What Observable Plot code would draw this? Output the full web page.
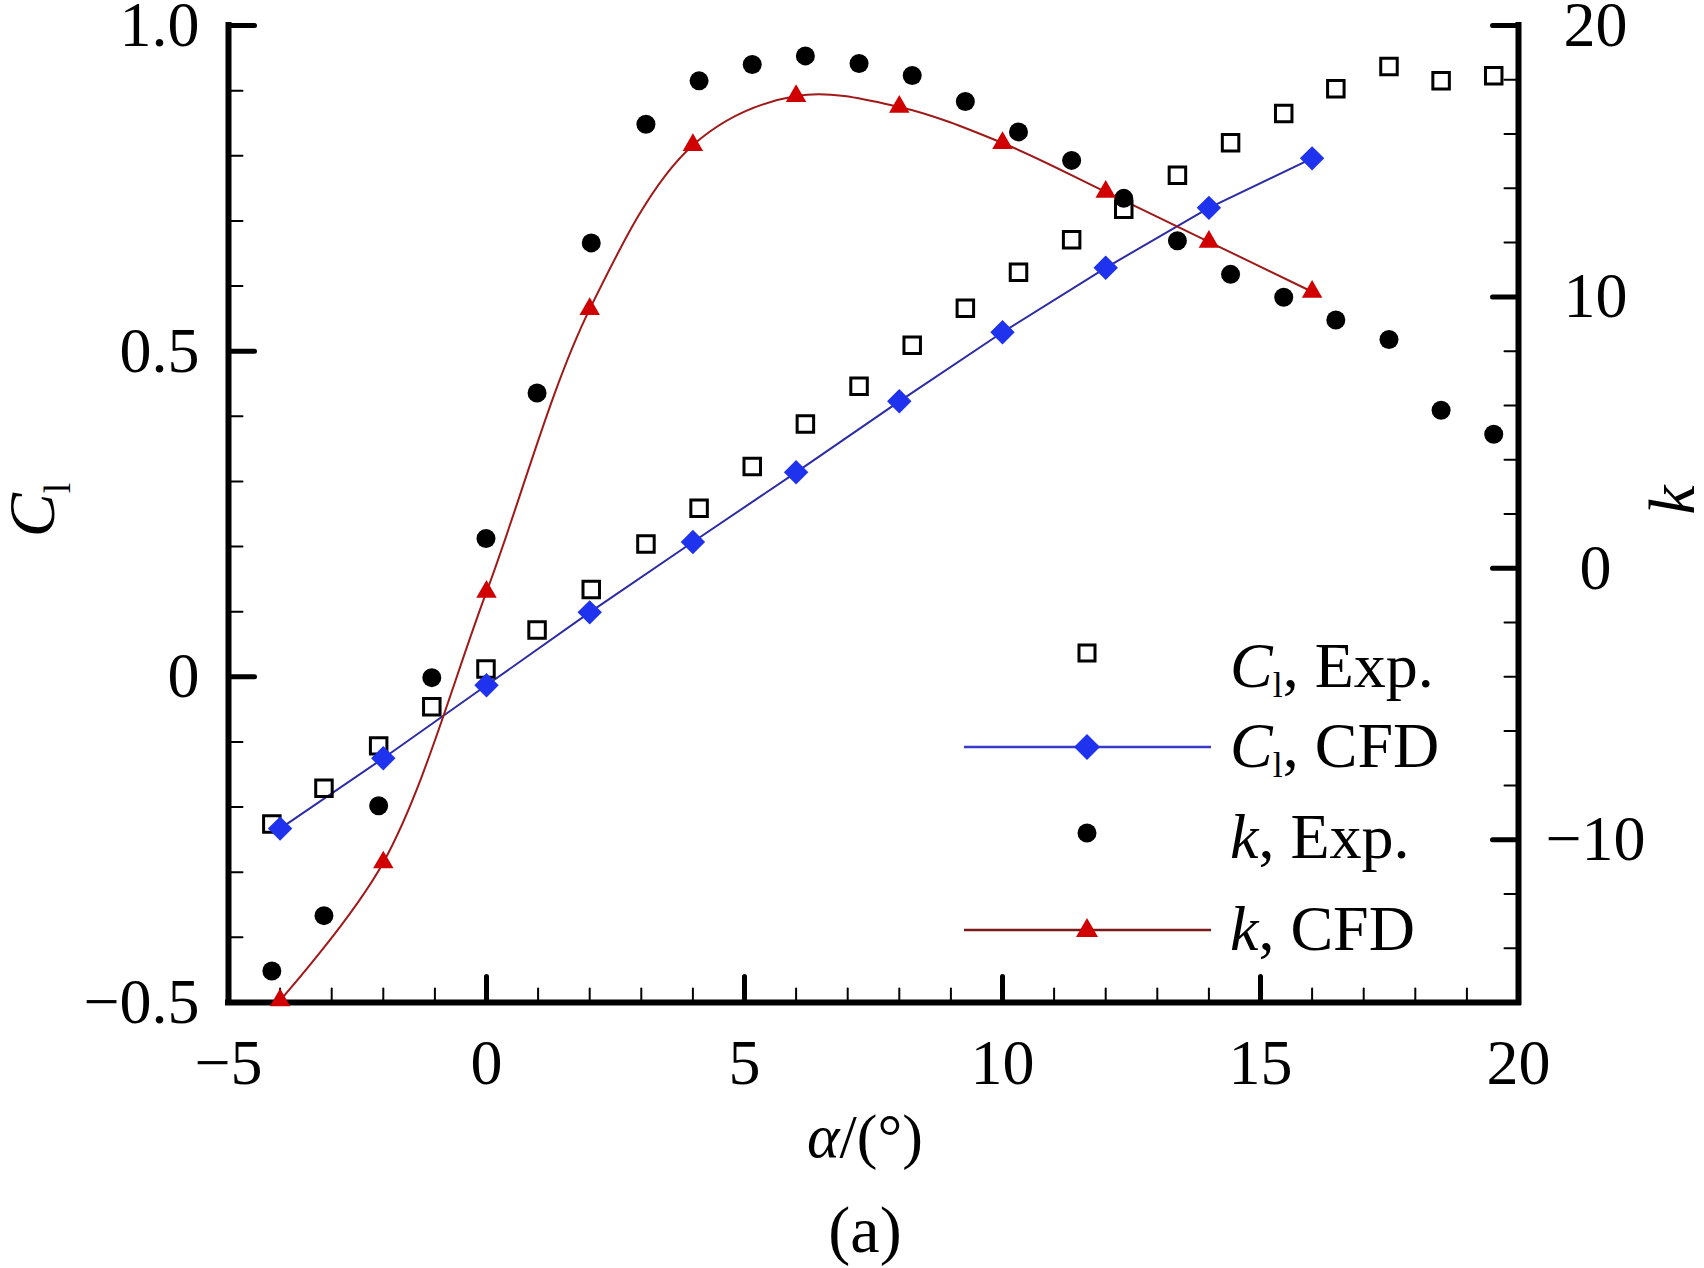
<!DOCTYPE html>
<html>
<head>
<meta charset="utf-8">
<script src="https://cdn.jsdelivr.net/npm/d3@7"></script>
<script src="https://cdn.jsdelivr.net/npm/@observablehq/plot@0.6"></script>
<style>
  html, body { margin: 0; padding: 0; background: #fff; }
  #wrap { position: relative; width: 1704px; height: 1268px; overflow: hidden;
          font-family: "Liberation Serif", "Times New Roman", serif; }
  #wrap svg { display: block; }
  #overlay { position: absolute; left: 0; top: 0; pointer-events: none; }
</style>
</head>
<body>
<div id="wrap"></div>
<script>
// ---------- data ----------
const alphaExp = [-4.16, -3.15, -2.09, -1.06, -0.01, 0.98, 2.03, 3.09, 4.12, 5.15, 6.18, 7.22,
                  8.25, 9.28, 10.31, 11.34, 12.35, 13.39, 14.42, 15.45, 16.46, 17.49, 18.50, 19.52];
const clExp = [-0.226, -0.171, -0.106, -0.046, 0.012, 0.072, 0.134, 0.204, 0.259, 0.323, 0.388, 0.446,
               0.509, 0.566, 0.621, 0.671, 0.718, 0.770, 0.820, 0.865, 0.903, 0.937, 0.915, 0.923];
const kExp = [-14.84, -12.80, -8.75, -4.03, 1.10, 6.46, 11.99, 16.36, 17.96, 18.56, 18.88, 18.60,
              18.16, 17.20, 16.08, 15.03, 13.63, 12.07, 10.83, 9.99, 9.15, 8.43, 5.82, 4.94];

const alphaCfd = [-4, -2, 0, 2, 4, 6, 8, 10, 12, 14, 16];
const clCfd = [-0.233, -0.125, -0.013, 0.099, 0.207, 0.314, 0.423, 0.529, 0.628, 0.720, 0.796];
const kCfd = [-15.92, -10.84, -0.87, 9.55, 15.59, 17.40, 17.00, 15.67, 13.87, 12.03, 10.19];

const xDomain = [-5, 20];
const clDomain = [-0.5, 1.0];
const kDomain = [-16, 20];

const xTicks = [-5, 0, 5, 10, 15, 20];
const clTicks = [-0.5, 0, 0.5, 1.0];
const kTicks = [-10, 0, 10, 20];
const xMinorStep = 1, clMinorStep = 0.1, kMinorStep = 2;

// ---------- helpers ----------
// map k (right axis) onto the C_l scale so both share the same y scale
const kToC = k => clDomain[0] + (k - kDomain[0]) * (clDomain[1] - clDomain[0]) / (kDomain[1] - kDomain[0]);
const cToK = c => kDomain[0] + (c - clDomain[0]) * (kDomain[1] - kDomain[0]) / (clDomain[1] - clDomain[0]);
const fmtInt = d3.format("d");
const fmtCl = d => (Math.abs(d) < 1e-9 ? "0" : d3.format(".1f")(d));

const near = (a, b) => Math.abs(a - b) < 1e-6;
const minorRange = (lo, hi, step, majors) =>
  d3.range(Math.round((hi - lo) / step) + 1).map(i => lo + i * step).filter(v => !majors.some(m => near(m, v)));

const xMinor = minorRange(xDomain[0], xDomain[1], xMinorStep, xTicks);
const clMinor = minorRange(clDomain[0], clDomain[1], clMinorStep, clTicks);
const kMinor = minorRange(kDomain[0], kDomain[1], kMinorStep, kTicks);

const expRows = alphaExp.map((a, i) => ({a, cl: clExp[i], k: kExp[i]}));
const cfdRows = alphaCfd.map((a, i) => ({a, cl: clCfd[i], k: kCfd[i]}));

const tickShape = {draw(context, l) { context.moveTo(0, 0); context.lineTo(0, -l); }};
const MAJ = 26, MIN = 14;

const blueLine = "#2c2ca6", blueFill = "#1f32ee";
const redLine = "#a01818", redFill = "#d00000";

const chart = Plot.plot({
  width: 1704, height: 1268,
  marginLeft: 228, marginRight: 186, marginTop: 25, marginBottom: 266,
  style: {fontFamily: '"Liberation Serif", "Times New Roman", serif', fontSize: "64px",
          color: "black", background: "white", overflow: "visible"},
  x: {domain: xDomain},
  y: {domain: clDomain},
  marks: [
    // tick labels
    Plot.axisX({ticks: xTicks, tickSize: 0, tickPadding: 36, tickFormat: fmtInt, anchor: "bottom",
                label: null, fontSize: 64}),
    Plot.axisY({ticks: clTicks, tickSize: 0, tickPadding: 29, tickFormat: fmtCl, anchor: "left",
                label: null, fontSize: 64}),
    Plot.axisY({ticks: kTicks.map(kToC), tickSize: 0, tickPadding: 77, textAnchor: "middle",
                tickFormat: c => fmtInt(Math.round(cToK(c))), anchor: "right", label: null, fontSize: 64}),
    // inward ticks
    Plot.vector(clTicks, {y: d => d, frameAnchor: "left", rotate: 90, length: MAJ, anchor: "start",
                          shape: tickShape, stroke: "black", strokeWidth: 5}),
    Plot.vector(clMinor, {y: d => d, frameAnchor: "left", rotate: 90, length: MIN, anchor: "start",
                          shape: tickShape, stroke: "black", strokeWidth: 2}),
    Plot.vector(kTicks, {y: d => kToC(d), frameAnchor: "right", rotate: -90, length: MAJ, anchor: "start",
                         shape: tickShape, stroke: "black", strokeWidth: 5}),
    Plot.vector(kMinor, {y: d => kToC(d), frameAnchor: "right", rotate: -90, length: MIN, anchor: "start",
                         shape: tickShape, stroke: "black", strokeWidth: 2}),
    Plot.vector(xTicks, {x: d => d, frameAnchor: "bottom", rotate: 0, length: MAJ, anchor: "start",
                         shape: tickShape, stroke: "black", strokeWidth: 5}),
    Plot.vector(xMinor, {x: d => d, frameAnchor: "bottom", rotate: 0, length: MIN, anchor: "start",
                         shape: tickShape, stroke: "black", strokeWidth: 2}),
    // frame (left, right, bottom)
    Plot.ruleX(xDomain, {stroke: "black", strokeWidth: 6, strokeLinecap: "square"}),
    Plot.ruleY([clDomain[0]], {stroke: "black", strokeWidth: 6, strokeLinecap: "square"}),
    // data
    Plot.line(cfdRows, {x: "a", y: "cl", stroke: blueLine, strokeWidth: 2}),
    Plot.line(cfdRows, {x: "a", y: d => kToC(d.k), stroke: redLine, strokeWidth: 2, curve: "catmull-rom"}),
    Plot.dot(expRows, {x: "a", y: "cl", symbol: "square", r: 9.3, stroke: "black", strokeWidth: 3, fill: "none"}),
    Plot.dot(expRows, {x: "a", y: d => kToC(d.k), symbol: "circle", r: 9.5, fill: "black", stroke: "none"}),
    Plot.dot(cfdRows, {x: "a", y: "cl", symbol: "diamond2", r: 11, fill: blueFill, stroke: "none"}),
    Plot.dot(cfdRows, {x: "a", y: d => kToC(d.k), symbol: "triangle", r: 7.6, fill: redFill, stroke: "none"})
  ]
});

const wrap = document.getElementById("wrap");
wrap.appendChild(chart);

// ---------- titles & legend (overlay) ----------
const legendItems = [
  {sym: "square", line: false, fill: "none", main: "C", sub: "l", rest: ", Exp."},
  {sym: "diamond", line: true, lineColor: "#3a3ac8", fill: blueFill, main: "C", sub: "l", rest: ", CFD"},
  {sym: "circle", line: false, fill: "black", main: "k", sub: "", rest: ", Exp."},
  {sym: "triangle", line: true, lineColor: "#7a1a1a", fill: redFill, main: "k", sub: "", rest: ", CFD"}
];
const legSymY = [653, 747, 833, 930];
const legTextY = [687, 767, 858, 950];
const legSymX = 1087, legLineX1 = 964, legLineX2 = 1211, legTextX = 1230;

function symbolSvg(it, cx, cy) {
  if (it.sym === "square") return `<rect x="${cx-8}" y="${cy-8}" width="16" height="16" fill="none" stroke="black" stroke-width="3"/>`;
  if (it.sym === "diamond") return `<path d="M${cx},${cy-13}L${cx+13},${cy}L${cx},${cy+13}L${cx-13},${cy}Z" fill="${it.fill}"/>`;
  if (it.sym === "circle") return `<circle cx="${cx}" cy="${cy}" r="9.5" fill="black"/>`;
  return `<path d="M${cx},${cy-12}L${cx+11},${cy+7}L${cx-11},${cy+7}Z" fill="${it.fill}"/>`;
}

let legend = "";
legendItems.forEach((it, i) => {
  if (it.line) legend += `<line x1="${legLineX1}" x2="${legLineX2}" y1="${legSymY[i]}" y2="${legSymY[i]}" stroke="${it.lineColor}" stroke-width="2.5"/>`;
  legend += symbolSvg(it, legSymX, legSymY[i]);
  const sub = it.sub ? `<tspan font-style="normal" font-size="36" dy="10">${it.sub}</tspan><tspan dy="-10">${it.rest}</tspan>`
                     : `<tspan font-style="normal">${it.rest}</tspan>`;
  legend += `<text x="${legTextX}" y="${legTextY[i]}" font-size="64"><tspan font-style="italic">${it.main}</tspan>${sub}</text>`;
});

const overlay = `
<svg id="overlay" width="1704" height="1268" xmlns="http://www.w3.org/2000/svg"
     font-family='"Liberation Serif", "Times New Roman", serif' fill="black">
  ${legend}
  <text x="865" y="1157" font-size="62" text-anchor="middle"><tspan font-style="italic">α</tspan>/(°)</text>
  <text x="865" y="1252" font-size="66" text-anchor="middle">(a)</text>
  <text transform="translate(54,510) rotate(-90)" font-size="66" text-anchor="middle"><tspan font-style="italic">C</tspan><tspan font-size="38" dy="16">l</tspan></text>
  <text transform="translate(1694,500) rotate(-90)" font-size="66" text-anchor="middle" font-style="italic">k</text>
</svg>`;
wrap.insertAdjacentHTML("beforeend", overlay);
</script>
</body>
</html>
